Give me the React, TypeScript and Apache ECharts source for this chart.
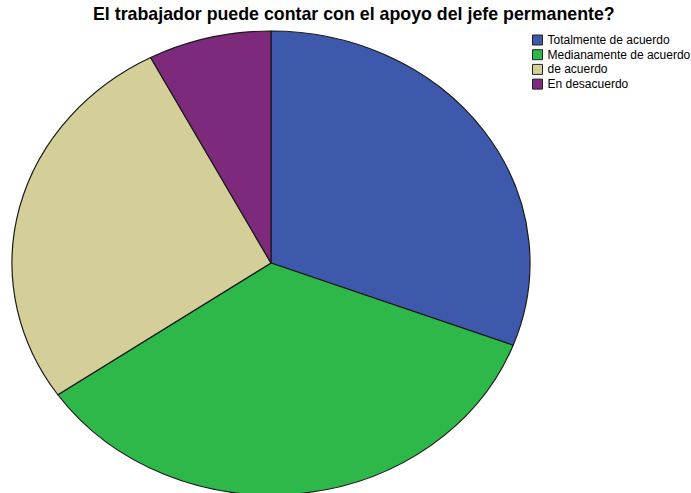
import React, { useEffect, useRef } from "react";
import * as echarts from "echarts";

const categories = ["Totalmente de acuerdo", "Medianamente de acuerdo", "de acuerdo", "En desacuerdo"];
const values = [8, 9, 7, 2];
const colors = ["#3E58AC", "#2EB84A", "#D4CE98", "#7D2A7C"];
const titleText = "El trabajador puede contar con el apoyo del jefe permanente?";

export default function App() {
  const pieRef = useRef<HTMLDivElement>(null);
  const topRef = useRef<HTMLDivElement>(null);

  useEffect(() => {
    document.body.style.margin = "0";
    const data = categories.map((name, i) => ({ name, value: values[i], itemStyle: { color: colors[i] } }));
    const pie = echarts.init(pieRef.current!, undefined, { renderer: "svg" });
    pie.setOption({
      animation: false,
      series: [
        {
          type: "pie",
          center: [271, 263],
          radius: [0, 259],
          startAngle: 90,
          clockwise: true,
          label: { show: false },
          labelLine: { show: false },
          silent: true,
          itemStyle: { borderColor: "#1a1a1a", borderWidth: 1.2 },
          data,
        },
      ],
    });
    const top = echarts.init(topRef.current!, undefined, { renderer: "svg" });
    top.setOption({
      animation: false,
      title: {
        text: titleText,
        left: 93,
        top: 5,
        padding: 0,
        textStyle: { fontFamily: "Liberation Sans, Arial, sans-serif", fontSize: 17.8, fontWeight: "bold", color: "#000" },
      },
      legend: {
        orient: "vertical",
        left: 532,
        top: 34,
        padding: 0,
        icon: "rect",
        itemWidth: 10,
        itemHeight: 10,
        itemGap: 2.7,
        selectedMode: false,
        data: categories,
        itemStyle: { borderColor: "#222", borderWidth: 1 },
        textStyle: { fontFamily: "Liberation Sans, Arial, sans-serif", fontSize: 12, lineHeight: 10, color: "#000" },
      },
      series: [
        {
          type: "pie",
          center: [-200, -200],
          radius: [0, 1],
          label: { show: false },
          labelLine: { show: false },
          silent: true,
          data,
        },
      ],
    });
    return () => {
      pie.dispose();
      top.dispose();
    };
  }, []);

  return (
    <div style={{ position: "relative", width: 691, height: 493, overflow: "hidden", background: "#fff" }}>
      <div
        ref={pieRef}
        style={{
          position: "absolute",
          left: 0,
          top: 0,
          width: 691,
          height: 530,
          transform: `scaleY(${232 / 259})`,
          transformOrigin: "0 263px",
        }}
      />
      <div ref={topRef} style={{ position: "absolute", left: 0, top: 0, width: 691, height: 493 }} />
    </div>
  );
}
